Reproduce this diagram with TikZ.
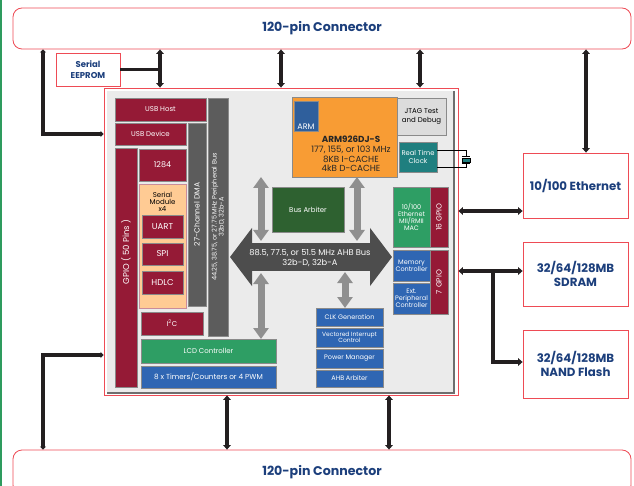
\documentclass[tikz,border=0pt]{standalone}
\usepackage{fontspec}
\setmainfont{Poppins}
\usetikzlibrary{arrows.meta}

\definecolor{crimson}{HTML}{951A36}
\definecolor{navy}{HTML}{1C3F7C}
\definecolor{armorange}{HTML}{F89C34}
\definecolor{armblue}{HTML}{2F5F9C}
\definecolor{perblue}{HTML}{2F66B3}
\definecolor{lcdgreen}{HTML}{2E9E64}
\definecolor{arbgreen}{HTML}{2E6130}
\definecolor{rtcteal}{HTML}{1F7F7F}
\definecolor{peach}{HTML}{FFCB94}
\definecolor{panelgray}{HTML}{EBEBEB}
\definecolor{bargray}{HTML}{5C5C5C}
\definecolor{ahbgray}{HTML}{4D4D4D}
\definecolor{midgray}{HTML}{8F8F8F}
\definecolor{jtaggray}{HTML}{DCDCDC}
\definecolor{framered}{HTML}{EE4B55}
\definecolor{linkblack}{HTML}{231F20}
\definecolor{blkedge}{HTML}{8A8A8A}
\definecolor{edgegreen}{HTML}{2E9B5E}

\begin{document}
\begin{tikzpicture}[
    x=1pt, y=-1pt,
    blk/.style={draw=blkedge, line width=0.9pt, inner sep=1pt, outer sep=0pt, text=white, align=center, font=\fontsize{7}{8}\selectfont},
    small/.style={font=\fontsize{6.5}{7.2}\selectfont},
    extbox/.style={draw=framered, line width=0.8pt, fill=white, text=navy, align=center, inner sep=0pt, font=\bfseries\fontsize{11.8}{13.5}\selectfont},
    bbus/.style={line width=3.5pt, draw=linkblack, {Triangle[width=7.5pt,length=4.5pt]}-{Triangle[width=7.5pt,length=4.5pt]}},
    bline/.style={line width=3.5pt, draw=linkblack},
    gbus/.style={line width=7pt, draw=midgray, {Triangle[width=15pt,length=11pt]}-{Triangle[width=15pt,length=11pt]}}
]
\useasboundingbox (0,0) rectangle (634,486);

% page edge
\draw[edgegreen, line width=1.5pt] (1,0) -- (1,486);

% Connectors top and bottom
\node[extbox, rounded corners=9pt, minimum width=618pt, minimum height=41pt, font=\bfseries\fontsize{12.6}{14}\selectfont] (topconn) at (322,28.5) {120-pin Connector};
\node[extbox, rounded corners=9pt, minimum width=618pt, minimum height=44pt, font=\bfseries\fontsize{12.6}{14}\selectfont] (botconn) at (322,472) {120-pin Connector};

% External parts
\node[extbox, minimum width=64pt, minimum height=33pt, font=\bfseries\fontsize{8.5}{10.5}\selectfont] (eeprom) at (88,69.5) {Serial\\EEPROM};
\node[extbox, minimum width=105pt, minimum height=65pt] (eth) at (575.5,185.5) {10/100 Ethernet};
\node[extbox, minimum width=105pt, minimum height=64pt] (sdram) at (575.5,274) {32/64/128MB\\SDRAM};
\node[extbox, minimum width=105pt, minimum height=68pt] (nand) at (575.5,364) {32/64/128MB\\NAND Flash};

% Module frame
\node[draw=framered, line width=0.8pt, fill=white, minimum width=354pt, minimum height=307pt, inner sep=0pt] (som) at (281,241.5) {};
\node[fill=panelgray, minimum width=346pt, minimum height=301pt, inner sep=0pt] (panel) at (280,241.5) {};
\draw[blkedge!80!black, line width=2pt] ([xshift=1pt]panel.north east) |- ([yshift=-1pt]panel.south west);

% Left column
\node[blk, fill=crimson, minimum width=91pt, minimum height=23pt] (usbhost) at (160.5,109.5) {USB Host};
\node[blk, fill=crimson, minimum width=71pt, minimum height=22pt] (usbdev) at (150.5,134) {USB Device};
\node[blk, fill=bargray, rotate=90, minimum width=238pt, minimum height=20pt, font=\fontsize{6.5}{7}\selectfont] (pbus) at (218,217) {44.25, 38.75, or 27.75 MHz Peripheral Bus\\32bD, 32b-A};
\node[blk, fill=bargray, rotate=90, minimum width=183pt, minimum height=18pt, font=\fontsize{7.5}{8}\selectfont] (dma) at (197,214.5) {27-Channel DMA};
\node[blk, fill=crimson, minimum width=22pt, minimum height=239pt] (gpio) at (126,267.5) {};
\node[text=white, rotate=90, font=\fontsize{8.5}{9}\selectfont] (gpiotxt) at (126,252) {GPIO ( 50 Pins )};
\node[blk, fill=crimson, minimum width=47pt, minimum height=32pt, font=\fontsize{8}{9}\selectfont] (p1284) at (162.5,165) {1284};
\node[blk, fill=peach, draw=crimson!50, line width=0.6pt, minimum width=47pt, minimum height=124pt] (sermod) at (162.5,246) {};
\node[text=black, align=center, font=\fontsize{7}{7}\selectfont] (sermodtxt) at (162.5,202) {Serial\\Module\\x4};
\node[blk, fill=crimson, minimum width=41pt, minimum height=23pt, font=\fontsize{8.5}{9}\selectfont] (uart) at (162.5,226.5) {UART};
\node[blk, fill=crimson, minimum width=41pt, minimum height=22pt, font=\fontsize{8.5}{9}\selectfont] (spi) at (162.5,254) {SPI};
\node[blk, fill=crimson, minimum width=41pt, minimum height=23pt, font=\fontsize{8.5}{9}\selectfont] (hdlc) at (162.5,282.5) {HDLC};
\node[blk, fill=crimson, minimum width=62pt, minimum height=23pt] (i2c) at (172,323.5) {I\textsuperscript{2}C};
\node[blk, fill=lcdgreen, minimum width=135pt, minimum height=24pt] (lcd) at (208.5,351) {LCD Controller};
\node[blk, fill=perblue, minimum width=135pt, minimum height=22pt, font=\fontsize{7.3}{8}\selectfont] (timers) at (208.5,377) {8 x Timers/Counters or 4 PWM};

% Processor
\node[blk, fill=armorange, minimum width=105pt, minimum height=80pt] (arm) at (344.5,137) {};
\node[blk, fill=armblue, minimum width=24pt, minimum height=30pt] (armlogo) at (306,116) {};
\node[text=white, anchor=south, inner sep=1.5pt, font=\fontsize{8}{9}\selectfont] (armlogotxt) at (armlogo.south) {ARM};
\node[text=black!85, align=center, font=\fontsize{8.8}{9.7}\selectfont] (armtxt) at (351,154) {\textbf{ARM926DJ-S}\\177, 155, or 103 MHz\\8KB I-CACHE\\4kB D-CACHE};
\node[blk, fill=jtaggray, text=black, minimum width=49pt, minimum height=37pt, font=\fontsize{7}{8.5}\selectfont] (jtag) at (421.5,116.5) {JTAG Test\\and Debug};
\node[blk, fill=rtcteal, minimum width=38pt, minimum height=30pt, font=\fontsize{6.8}{8}\selectfont] (rtc) at (418,157) {Real Time\\Clock};
\node[draw=black, fill=rtcteal, minimum width=8pt, minimum height=3.5pt, inner sep=0pt] (xtal) at (466,160) {};
\draw[black, line width=0.5pt] (rtc.east |- 0,150) -| ([yshift=1.5pt]xtal.north);
\draw[black, line width=0.5pt] (rtc.east |- 0,167) -| ([yshift=-1.5pt]xtal.south);
\draw[black, line width=0.7pt] ([yshift=1.5pt]xtal.north west) -- ([yshift=1.5pt]xtal.north east);
\draw[black, line width=0.7pt] ([yshift=-1.5pt]xtal.south west) -- ([yshift=-1.5pt]xtal.south east);

% AHB bus
\coordinate (ahbL) at (230,257);
\coordinate (ahbR) at (392,257);
\draw[line width=28pt, draw=ahbgray, {Triangle[width=57pt,length=22pt]}-{Triangle[width=57pt,length=22pt]}] (ahbL) -- (ahbR);
\node[text=white, align=center, font=\fontsize{8.3}{10}\selectfont] (ahbtxt) at (310,258) {88.5, 77.5, or 51.5 MHz AHB Bus\\32b-D, 32b-A};
\node[blk, fill=arbgreen, minimum width=72pt, minimum height=45pt] (busarb) at (308,209.5) {Bus Arbiter};

% Right column
\node[blk, fill=lcdgreen, minimum width=37pt, minimum height=60pt, small] (emac) at (411.5,217) {10/100\\Ethernet\\MII/RMII\\MAC};
\node[blk, fill=crimson, rotate=90, minimum width=60pt, minimum height=18pt, font=\fontsize{7.5}{8}\selectfont] (gpio16) at (439,217) {16 GPIO};
\node[blk, fill=perblue, minimum width=37pt, minimum height=31pt, small] (memc) at (411.5,265.5) {Memory\\Controller};
\node[blk, fill=perblue, minimum width=37pt, minimum height=31pt, small] (extp) at (411.5,298.5) {Ext.\\Peripheral\\Controller};
\node[blk, fill=crimson, rotate=90, minimum width=64pt, minimum height=18pt, font=\fontsize{7.5}{8}\selectfont] (gpio7) at (439,282) {7 GPIO};

% System blocks
\node[blk, fill=perblue, minimum width=67pt, minimum height=18pt, small] (clk) at (349.5,317) {CLK Generation};
\node[blk, fill=perblue, minimum width=67pt, minimum height=19pt, font=\fontsize{6}{6.6}\selectfont] (vic) at (349.5,337.5) {Vectored Interrupt\\Control};
\node[blk, fill=perblue, minimum width=67pt, minimum height=19pt, small] (pwr) at (349.5,358.5) {Power Manager};
\node[blk, fill=perblue, minimum width=67pt, minimum height=17pt, small] (ahbarb) at (349.5,378.5) {AHB Arbiter};

% Internal links
\coordinate (dmaTop) at (261,177);
\draw[gbus] (dmaTop) -- (261,241);
\draw[gbus] (arm.south -| 357,0) -- (357,241);
\draw[gbus] (261,273) -- (lcd.north -| 261,0);
\draw[gbus] (345,272) -- (clk.north -| 345,0);

% External links
\coordinate (lt) at (43,134);
\coordinate (lb) at (43,355);
\draw[bbus, {Triangle[width=6pt,length=3pt]}-{Triangle[width=6pt,length=3pt]}] (topconn.south -| lt) |- (som.west |- lt);
\draw[bbus, {Triangle[width=6pt,length=3pt]}-{Triangle[width=6pt,length=3pt]}] (botconn.north -| lb) |- (som.west |- lb);
\draw[bbus] (topconn.south -| 160,0) -- (som.north -| 160,0);
\draw[bline] (eeprom.east) -- (eeprom.east -| 160,0);
\draw[bbus] (topconn.south -| 281,0) -- (som.north -| 281,0);
\draw[bbus] (topconn.south -| 420,0) -- (som.north -| 420,0);
\draw[bbus] (topconn.south -| 586,0) -- (eth.north -| 586,0);
\draw[bbus] (som.east |- 0,211) -- (eth.west |- 0,211);
\draw[bbus] (som.east |- 0,271) -- (sdram.west |- 0,271);
\coordinate (tj) at (493,271);
\draw[bline, -{Triangle[width=7.5pt,length=4.5pt]}] (tj) |- (nand.west |- 0,362);
\draw[bbus] (som.south -| 227,0) -- (botconn.north -| 227,0);
\draw[bbus] (som.south -| 389,0) -- (botconn.north -| 389,0);

\end{tikzpicture}
\end{document}
